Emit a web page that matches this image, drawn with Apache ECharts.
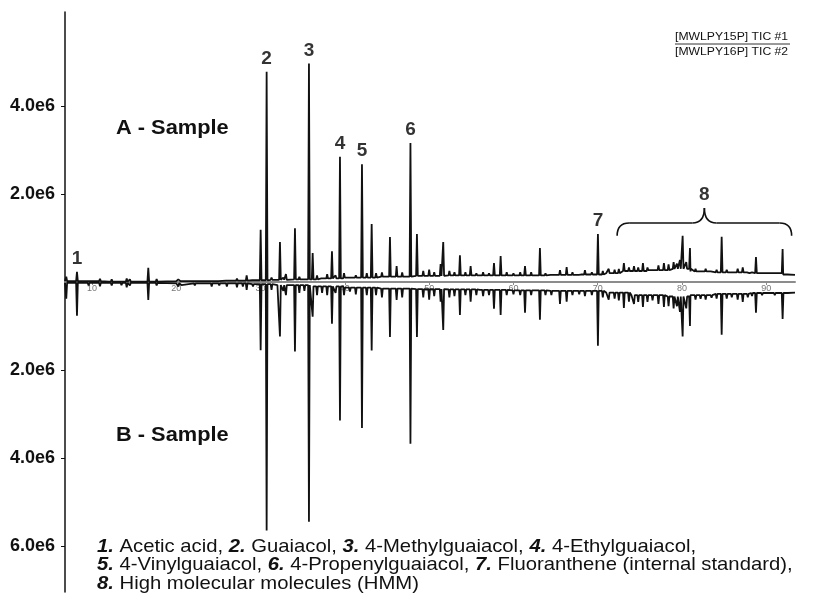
<!DOCTYPE html>
<html>
<head>
<meta charset="utf-8">
<script src="https://cdn.jsdelivr.net/npm/echarts@6.0.0/dist/echarts.min.js"></script>
<style>
  html, body { margin: 0; padding: 0; background: #fff; }
  #chart { width: 814px; height: 606px; }
</style>
</head>
<body>
<div id="chart"></div>
<script>
// retention time (min) / intensity (x1e6)
const baselineA = [
  [6.8, 0.02], [12, 0.01], [20, 0.02], [26, 0.03], [29, 0.04], [31, 0.05], [34, 0.06],
  [37, 0.08], [40, 0.1], [44, 0.12], [48, 0.14], [52, 0.15], [56, 0.15], [60, 0.15],
  [64, 0.16], [68, 0.17], [71, 0.2], [73, 0.25], [76, 0.27], [79, 0.3], [81, 0.24],
  [84, 0.22], [88, 0.2], [92, 0.17], [93.4, 0.16]
];
const baselineB = [
  [6.8, -0.02], [20, -0.03], [29, -0.05], [32, -0.07], [36, -0.1], [40, -0.13], [44, -0.15],
  [48, -0.16], [52, -0.17], [56, -0.18], [60, -0.19], [64, -0.2], [68, -0.2], [71, -0.24],
  [74, -0.3], [78, -0.33], [81, -0.3], [84, -0.27], [88, -0.25], [93.4, -0.24]
];

const peaksA = [
  [6.95, 0.12], [8.22, 0.23], [9.6, 0.06], [10.95, 0.07], [12.34, 0.06], [14.12, 0.08], [14.5, 0.06],
  [16.68, 0.32], [17.67, 0.07], [20.24, 0.06], [20.6, 0.05], [22.2, 0.05], [23.2, 0.05], [24.2, 0.06],
  [25.1, 0.05], [26.0, 0.06], [27.2, 0.08], [27.9, 0.07], [28.35, 0.15], [29.1, 0.07],
  [30.01, 1.19], [30.72, 4.78], [31.3, 0.1], [32.3, 0.91], [32.7, 0.1], [33.01, 0.18], [34.08, 1.22],
  [34.6, 0.12], [35.2, 0.1], [35.74, 4.97], [36.18, 0.66], [36.7, 0.15], [37.3, 0.12], [37.9, 0.18],
  [38.47, 0.7], [38.9, 0.15], [39.42, 2.85], [39.9, 0.2], [40.6, 0.12], [41.3, 0.15], [42.03, 2.68],
  [42.6, 0.2], [43.18, 1.32], [43.7, 0.2], [44.4, 0.22], [45.35, 1.02], [46.14, 0.36], [46.8, 0.22],
  [47.78, 3.16], [48.55, 1.09], [49.3, 0.25], [50.0, 0.28], [50.6, 0.22], [51.36, 0.41], [51.67, 0.91],
  [52.4, 0.25], [53.0, 0.22], [53.65, 0.61], [54.3, 0.22], [54.92, 0.36], [55.6, 0.2], [56.4, 0.22],
  [57.1, 0.2], [57.69, 0.43], [58.48, 0.59], [59.2, 0.22], [60.0, 0.2], [60.8, 0.22], [61.37, 0.36],
  [62.1, 0.22], [63.14, 0.77], [63.8, 0.2], [64.5, 0.2], [65.52, 0.27], [66.31, 0.34], [67.0, 0.22],
  [67.8, 0.2], [68.48, 0.27], [69.3, 0.22], [70.02, 1.09], [70.6, 0.25], [71.3, 0.3], [72.0, 0.28],
  [72.5, 0.3], [73.1, 0.43], [73.7, 0.33], [74.3, 0.36], [74.8, 0.33], [75.36, 0.43], [75.9, 0.33],
  [76.5, 0.3], [77.2, 0.38], [77.85, 0.43], [78.4, 0.4], [79.0, 0.45], [79.4, 0.42], [79.75, 0.5],
  [80.07, 1.05], [80.5, 0.45], [80.94, 0.77], [81.6, 0.3], [82.2, 0.28], [82.8, 0.3], [83.5, 0.26],
  [84.1, 0.28], [84.7, 1.03], [85.3, 0.28], [85.9, 0.25], [86.6, 0.3], [87.2, 0.33], [87.8, 0.25],
  [88.3, 0.22], [88.77, 0.57], [89.5, 0.2], [90.2, 0.18], [91.0, 0.2], [91.93, 0.75], [92.6, 0.18]
];
const peaksB = [
  [6.95, -0.38], [8.22, -0.77], [9.6, -0.08], [10.95, -0.1], [12.34, -0.08], [13.5, -0.07], [14.12, -0.12],
  [14.5, -0.08], [16.68, -0.41], [17.67, -0.08], [20.24, -0.1], [20.6, -0.07], [22.2, -0.08], [23.2, -0.07],
  [24.2, -0.1], [25.1, -0.08], [26.0, -0.1], [27.2, -0.12], [27.9, -0.1], [28.35, -0.18], [29.1, -0.1],
  [30.01, -1.55], [30.72, -5.65], [31.3, -0.18], [32.3, -1.24], [32.7, -0.2], [33.01, -0.3], [34.08, -1.58],
  [34.6, -0.25], [35.2, -0.2], [35.74, -5.45], [36.18, -0.79], [36.7, -0.3], [37.3, -0.25], [37.9, -0.3],
  [38.47, -0.95], [38.9, -0.25], [39.42, -3.15], [39.9, -0.3], [40.6, -0.22], [41.3, -0.28], [42.03, -3.32],
  [42.6, -0.3], [43.18, -1.56], [43.7, -0.3], [44.4, -0.35], [45.35, -1.25], [46.14, -0.41], [46.8, -0.35],
  [47.78, -3.68], [48.55, -1.25], [49.3, -0.35], [50.0, -0.4], [50.6, -0.32], [51.36, -0.45], [51.67, -1.09],
  [52.4, -0.35], [53.0, -0.32], [53.65, -0.75], [54.3, -0.3], [54.92, -0.45], [55.6, -0.3], [56.4, -0.32],
  [57.1, -0.3], [57.69, -0.61], [58.48, -0.75], [59.2, -0.3], [60.0, -0.28], [60.8, -0.3], [61.37, -0.7],
  [62.1, -0.3], [63.14, -0.86], [63.8, -0.3], [64.5, -0.3], [65.52, -0.5], [66.31, -0.45], [67.0, -0.3],
  [67.8, -0.28], [68.48, -0.32], [69.3, -0.3], [70.02, -1.45], [70.6, -0.35], [71.3, -0.4], [72.0, -0.38],
  [72.5, -0.42], [73.1, -0.59], [73.7, -0.45], [74.3, -0.5], [74.8, -0.45], [75.36, -0.57], [75.9, -0.45],
  [76.5, -0.42], [77.2, -0.5], [77.85, -0.57], [78.4, -0.55], [79.0, -0.6], [79.4, -0.55], [79.75, -0.68],
  [80.07, -1.24], [80.5, -0.6], [80.94, -1.0], [81.6, -0.4], [82.2, -0.38], [82.8, -0.4], [83.5, -0.36],
  [84.1, -0.38], [84.7, -1.2], [85.3, -0.38], [85.9, -0.35], [86.6, -0.4], [87.2, -0.45], [87.8, -0.35],
  [88.3, -0.32], [88.77, -0.7], [89.5, -0.3], [90.2, -0.28], [91.0, -0.3], [91.93, -0.84], [92.6, -0.28]
];

// numbered compounds: [time, peak top, label]
const peakLabels = [
  [8.22, 0.23, '1'], [30.72, 4.78, '2'], [35.74, 4.97, '3'], [39.42, 2.85, '4'],
  [42.03, 2.68, '5'], [47.78, 3.16, '6'], [70.02, 1.09, '7']
];
// HMM bracket: time range, end / arm / tip levels, label
const hmmRange = [72.3, 93.0];
const hmmLevels = [1.05, 1.34, 1.68];
const hmmLabel = '8';

const xRange = [6.8, 93.4];
const yRange = [-7.05, 6.14];
const xTicks = [10, 20, 30, 40, 50, 60, 70, 80, 90];
const yTicks = [-6, -4, -2, 2, 4];

const legendLines = ['[MWLPY15P] TIC #1', '[MWLPY16P] TIC #2'];
const captionLines = [
  '{n|1.} Acetic acid, {n|2.} Guaiacol, {n|3.} 4-Methylguaiacol, {n|4.} 4-Ethylguaiacol,',
  '{n|5.} 4-Vinylguaiacol, {n|6.} 4-Propenylguaiacol, {n|7.} Fluoranthene (internal standard),',
  '{n|8.} High molecular molecules (HMM)'
];

const FONT = "'Liberation Sans', Arial, sans-serif";
const GRID = { left: 65, right: 19, top: 12, bottom: 14 };

// level of the baseline knot at or before t (no interpolation)
const footAt = (base, t) => {
  let v = base[0][1];
  base.forEach(([bt, bv]) => { if (bt <= t) v = bv; });
  return v;
};

const buildTrace = (base, peaks) => {
  const pts = base.map(p => [p[0], p[1]]);
  peaks.forEach(([t, h]) => {
    const f = footAt(base, t);
    pts.push([t - 0.1, f], [t, h], [t + 0.1, f]);
  });
  pts.sort((a, b) => a[0] - b[0]);
  return pts;
};

const chart = echarts.init(document.getElementById('chart'));

// move the time axis up from the grid bottom to intensity 0
const gridHeight = 606 - GRID.top - GRID.bottom;
const zeroOffset = -gridHeight * (0 - yRange[0]) / (yRange[1] - yRange[0]);

const option = {
  animation: false,
  grid: GRID,
  xAxis: {
    type: 'value',
    min: xRange[0],
    max: xRange[1],
    position: 'bottom',
    offset: zeroOffset,
    axisLine: { onZero: false, lineStyle: { color: '#8c8c8c', width: 2 } },
    axisTick: { show: true, customValues: xTicks, length: 3, lineStyle: { color: '#8c8c8c' } },
    axisLabel: { customValues: xTicks, fontSize: 9, color: '#777', margin: 2, fontFamily: FONT },
    splitLine: { show: false }
  },
  yAxis: {
    type: 'value',
    min: yRange[0],
    max: yRange[1],
    axisLine: { show: true, onZero: false, lineStyle: { color: '#111', width: 1.5 } },
    axisTick: { show: true, customValues: yTicks, length: 4, lineStyle: { color: '#111' } },
    axisLabel: {
      customValues: yTicks,
      formatter: v => Math.abs(v).toFixed(1) + 'e6',
      fontSize: 18,
      fontWeight: 'bold',
      color: '#111',
      margin: 10,
      fontFamily: FONT
    },
    splitLine: { show: false }
  },
  series: [
    {
      name: 'TIC #1',
      type: 'line',
      data: buildTrace(baselineA, peaksA),
      showSymbol: false,
      lineStyle: { color: '#111', width: 1.8 },
      z: 3
    },
    {
      name: 'TIC #2',
      type: 'line',
      data: buildTrace(baselineB, peaksB),
      showSymbol: false,
      lineStyle: { color: '#111', width: 1.8 },
      z: 3
    },
    {
      type: 'scatter',
      data: peakLabels.concat([[(hmmRange[0] + hmmRange[1]) / 2, hmmLevels[2], hmmLabel]]),
      symbolSize: 1,
      itemStyle: { color: 'rgba(0,0,0,0)' },
      label: {
        show: true,
        position: 'top',
        distance: 3,
        formatter: p => p.data[2],
        fontSize: 19,
        fontWeight: 'bold',
        color: '#000',
        fontFamily: FONT
      },
      z: 4
    }
  ]
};

chart.setOption(option);

// bracket over the HMM region, placed through the chart's own scales
const px = (t, v) => chart.convertToPixel({ gridIndex: 0 }, [t, v]);
const [x0, yEnd] = px(hmmRange[0], hmmLevels[0]);
const [x1] = px(hmmRange[1], hmmLevels[0]);
const [, yArm] = px(hmmRange[0], hmmLevels[1]);
const [xc, yTip] = px((hmmRange[0] + hmmRange[1]) / 2, hmmLevels[2]);
const r = 12;
const braceStyle = { stroke: '#111', lineWidth: 1.6, fill: null };
const curve = (id, ax, ay, cx, cy, bx, by) => ({
  type: 'bezierCurve', id,
  shape: { x1: ax, y1: ay, x2: bx, y2: by, cpx1: cx, cpy1: cy },
  style: braceStyle
});
const seg = (id, ax, ay, bx, by) => ({
  type: 'line', id, shape: { x1: ax, y1: ay, x2: bx, y2: by }, style: braceStyle
});

const sampleText = (id, text, y) => ({
  type: 'text', id, x: 116, y, scaleX: 1.09,
  style: { text, fontSize: 20, fontWeight: 'bold', fontFamily: FONT, fill: '#111', verticalAlign: 'middle' }
});

chart.setOption({
  graphic: [
    curve('b1', x0, yEnd, x0, yArm, x0 + r, yArm),
    seg('b2', x0 + r, yArm, xc - r, yArm),
    curve('b3', xc - r, yArm, xc, yArm, xc, yTip),
    curve('b4', xc, yTip, xc, yArm, xc + r, yArm),
    seg('b5', xc + r, yArm, x1 - r, yArm),
    curve('b6', x1 - r, yArm, x1, yArm, x1, yEnd),
    sampleText('sampleA', 'A - Sample', 128),
    sampleText('sampleB', 'B - Sample', 435),
    ...legendLines.map((t, i) => ({
      type: 'text', id: 'leg' + i, x: 675, y: 37 + i * 15, scaleX: 1.06,
      style: { text: t, fontSize: 11.5, fontFamily: FONT, fill: '#111', verticalAlign: 'middle' }
    })),
    {
      type: 'line', id: 'legUnderline',
      shape: { x1: 675, y1: 44, x2: 790, y2: 44 },
      style: { stroke: '#333', lineWidth: 1 }
    },
    ...captionLines.map((t, i) => ({
      type: 'text', id: 'cap' + i, x: 97, y: 547 + i * 18.3, scaleX: 1.095,
      style: {
        text: t, fontSize: 18.5, fontFamily: FONT, fill: '#111', verticalAlign: 'middle',
        rich: { n: { fontSize: 18.5, fontFamily: FONT, fontWeight: 'bold', fontStyle: 'italic', fill: '#111' } }
      }
    }))
  ]
});

window.addEventListener('resize', () => chart.resize());
</script>
</body>
</html>
